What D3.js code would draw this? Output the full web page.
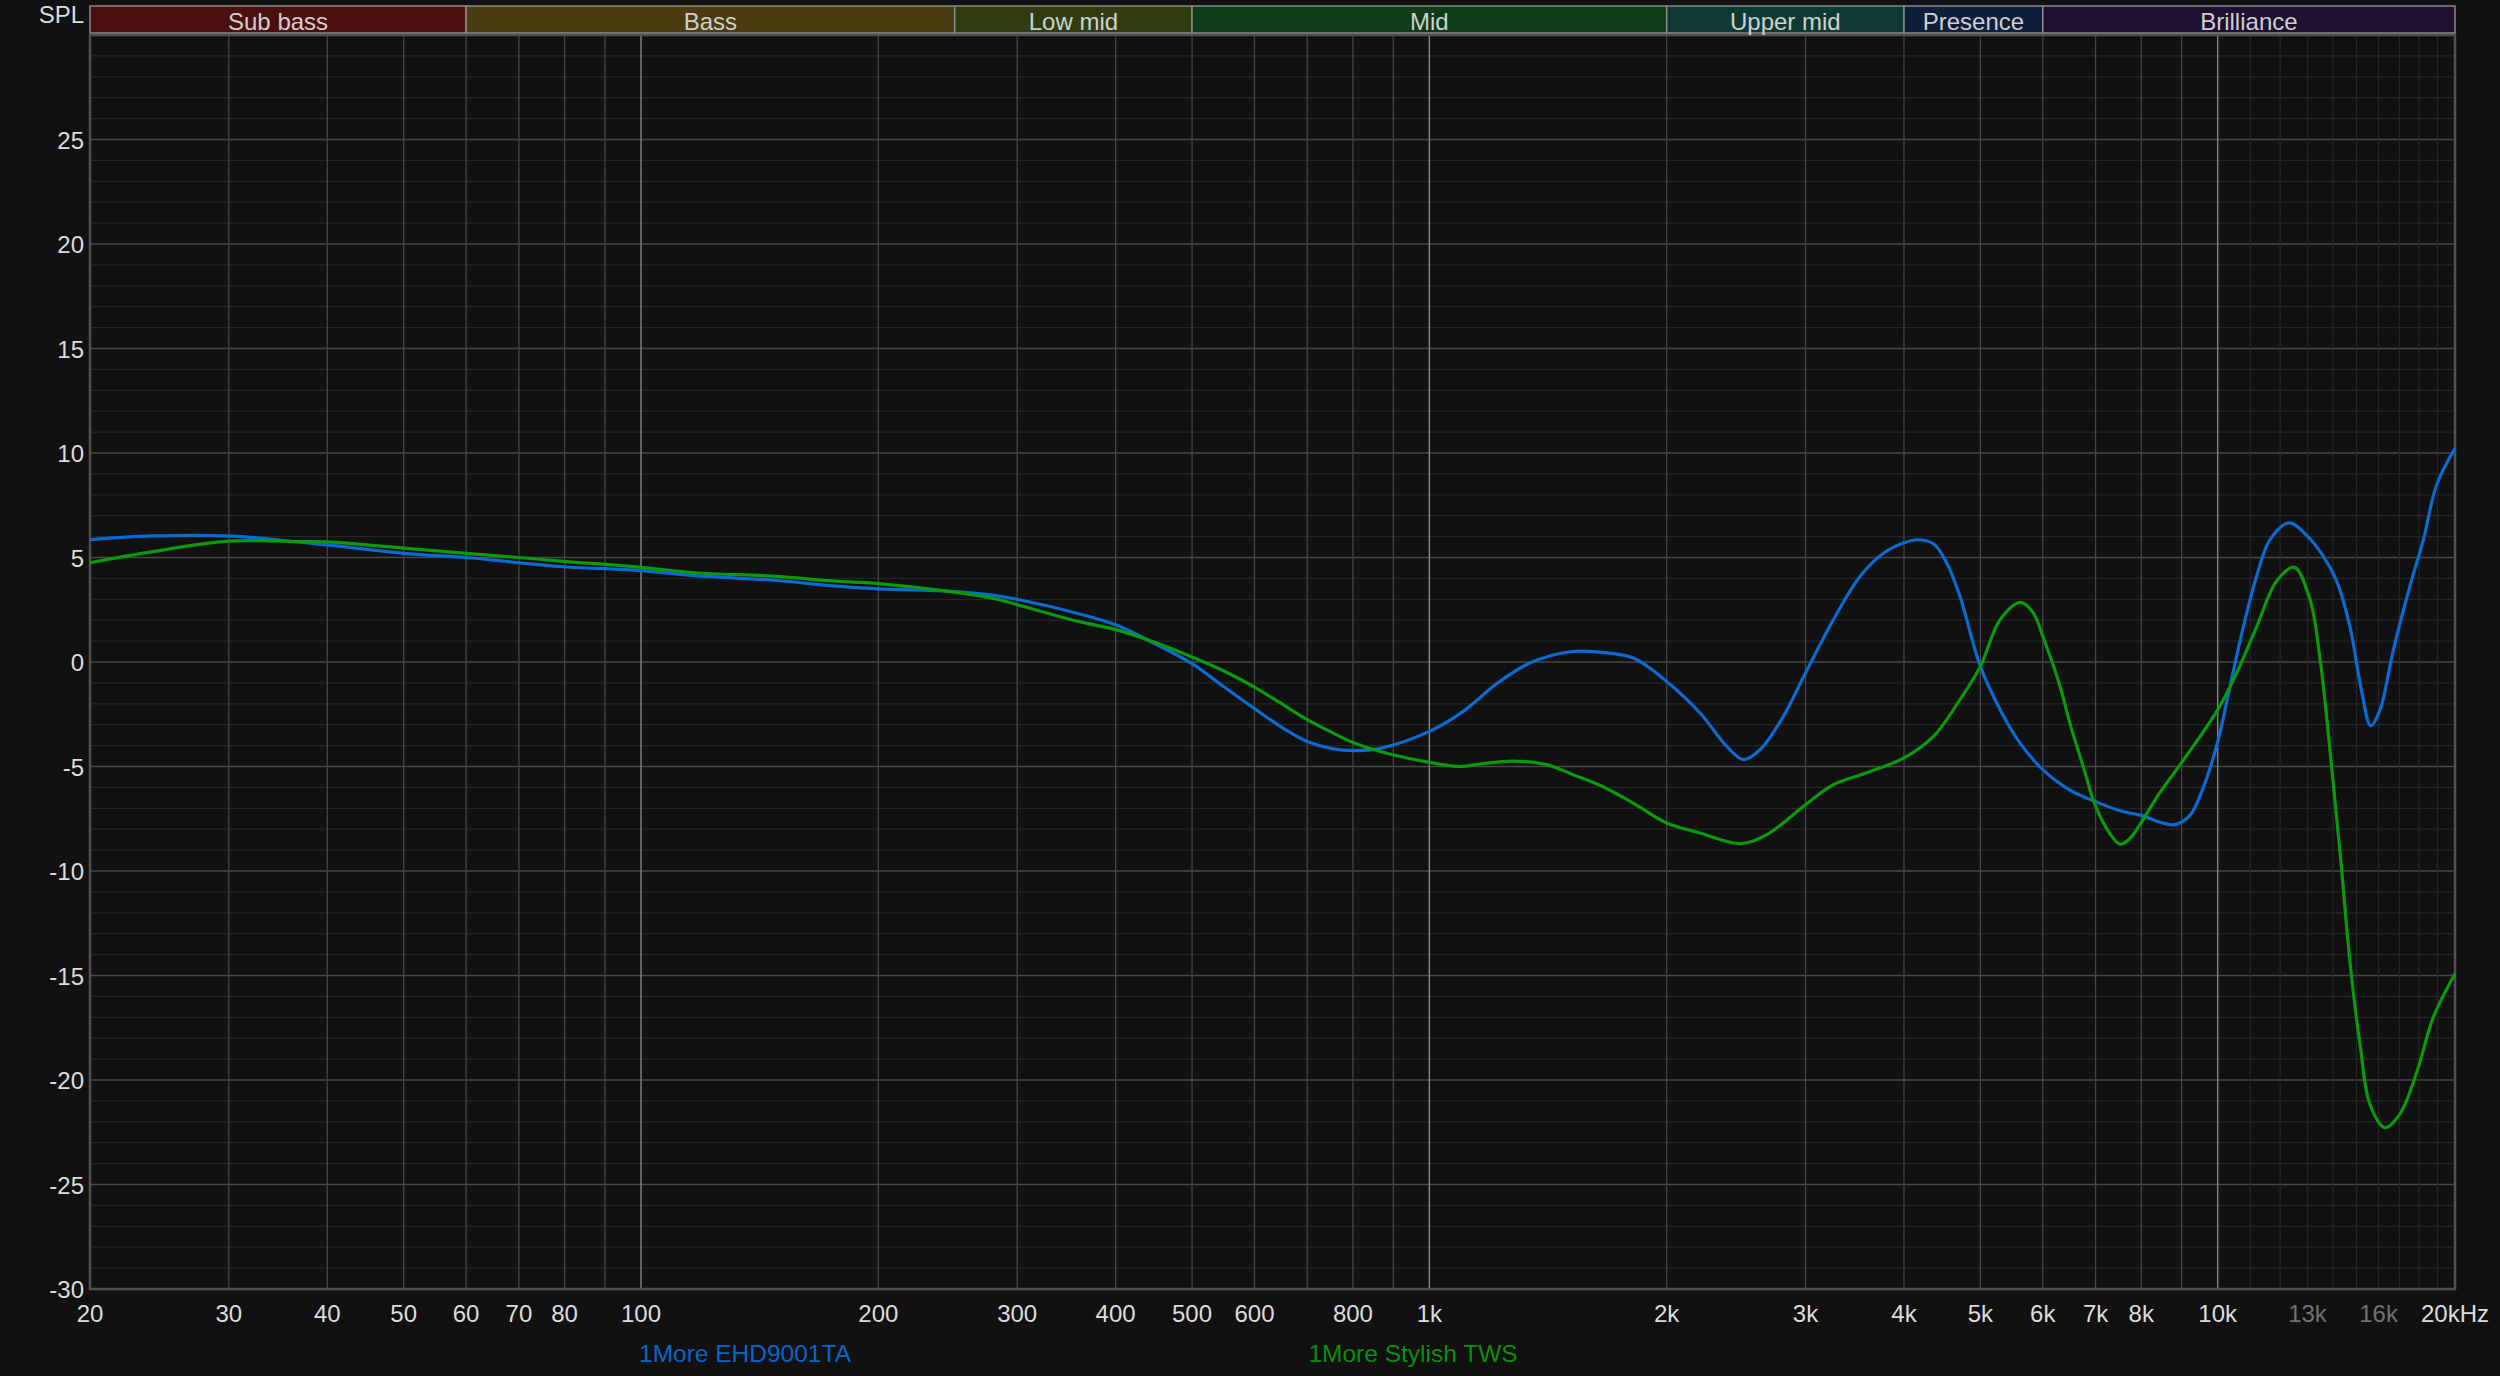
<!DOCTYPE html>
<html>
<head>
<meta charset="utf-8">
<script src="https://cdn.jsdelivr.net/npm/d3@7"></script>
<style>
  html, body { margin: 0; padding: 0; background: #111111; }
  svg { display: block; }
  text { font-family: "Liberation Sans", Arial, sans-serif; }
</style>
</head>
<body>
<svg id="chart" width="2500" height="1376"></svg>
<script>
// ---------------- DATA ----------------
const seriesNames = ["1More EHD9001TA", "1More Stylish TWS"];

const blueFreq = [20, 24, 30, 37, 40, 50, 60, 70, 79, 100, 117, 149, 172, 200, 246, 280, 300, 360, 400, 447, 500, 548, 600, 647, 700, 755, 800, 866, 1000, 1104, 1217, 1341, 1508, 1646, 1814, 2000, 2205, 2384, 2502, 2627, 2812, 3000, 3255, 3519, 3767, 4000, 4152, 4359, 4532, 4711, 5000, 5297, 5614, 6000, 6496, 7000, 7518, 8000, 8451, 8828, 9222, 9586, 10000, 10364, 10776, 11202, 11647, 12325, 12966, 13612, 14157, 14719, 15229, 15634, 16066, 16703, 17537, 18233, 18959, 20000];
const blueDb = [5.85, 6.03, 6.03, 5.73, 5.6, 5.2, 5.0, 4.75, 4.57, 4.37, 4.13, 3.9, 3.67, 3.5, 3.38, 3.19, 3.0, 2.3, 1.78, 0.91, -0.08, -1.17, -2.23, -3.08, -3.8, -4.16, -4.24, -4.13, -3.32, -2.36, -1.04, -0.05, 0.49, 0.47, 0.19, -0.93, -2.44, -4.04, -4.67, -4.2, -2.6, -0.53, 2.02, 4.1, 5.2, 5.7, 5.85, 5.66, 4.74, 3.14, -0.21, -2.28, -3.88, -5.15, -6.13, -6.68, -7.12, -7.34, -7.67, -7.78, -7.34, -6.02, -3.82, -1.19, 1.67, 4.09, 5.84, 6.66, 6.06, 5.07, 3.87, 1.67, -1.41, -3.05, -2.29, 0.57, 3.65, 5.84, 8.48, 10.23];

const greenFreq = [20, 24, 30, 37, 40, 50, 60, 70, 79, 100, 117, 149, 172, 200, 246, 280, 300, 360, 400, 451, 500, 548, 600, 647, 700, 755, 800, 866, 1000, 1095, 1159, 1278, 1408, 1522, 1646, 1814, 2000, 2205, 2483, 2679, 3000, 3255, 3587, 4000, 4359, 4711, 5000, 5297, 5625, 5838, 6000, 6311, 6496, 6755, 7000, 7302, 7518, 7740, 8000, 8451, 9000, 10000, 10570, 11202, 11876, 12508, 13093, 13487, 13885, 14296, 14719, 15157, 15606, 16301, 17030, 17880, 18774, 20000];
const greenDb = [4.75, 5.28, 5.78, 5.76, 5.75, 5.45, 5.2, 5.0, 4.83, 4.53, 4.27, 4.1, 3.89, 3.75, 3.38, 3.04, 2.74, 1.93, 1.55, 0.91, 0.24, -0.42, -1.2, -1.96, -2.76, -3.4, -3.85, -4.28, -4.8, -5.0, -4.88, -4.74, -4.91, -5.39, -5.9, -6.75, -7.7, -8.18, -8.69, -8.26, -6.83, -5.87, -5.3, -4.59, -3.56, -1.8, -0.21, 2.02, 2.85, 2.34, 1.23, -1.17, -2.95, -5.03, -6.9, -8.22, -8.72, -8.44, -7.67, -6.24, -4.81, -2.29, -0.53, 1.67, 3.87, 4.53, 2.99, 0.13, -4.26, -9.1, -14.37, -18.32, -21.18, -22.28, -21.62, -19.64, -17.0, -14.92];

const bandNames = ["Sub bass", "Bass", "Low mid", "Mid", "Upper mid", "Presence", "Brilliance"];
const bandStart = [20, 60, 250, 500, 2000, 4000, 6000];
const bandEnd = [60, 250, 500, 2000, 4000, 6000, 20000];

const xTickValues = [20, 30, 40, 50, 60, 70, 80, 100, 200, 300, 400, 500, 600, 800, 1000, 2000, 3000, 4000, 5000, 6000, 7000, 8000, 10000, 13000, 16000, 20000];
const xTickLabels = ["20", "30", "40", "50", "60", "70", "80", "100", "200", "300", "400", "500", "600", "800", "1k", "2k", "3k", "4k", "5k", "6k", "7k", "8k", "10k", "13k", "16k", "20kHz"];
const xTickDim = ["13k", "16k"];
const yTickValues = [25, 20, 15, 10, 5, 0, -5, -10, -15, -20, -25, -30];

// ---------------- STYLE / LAYOUT ----------------
const W = 2500, H = 1376;
const pLeft = 90, pRight = 2455, pTop = 35, pBottom = 1289;
const bandTop = 6, bandBottom = 33;
const bandColors = ["#4b0f10", "#4a3c10", "#2f3c10", "#0f3c18", "#0f3a34", "#0f1e3a", "#1e1030"];
const seriesColors = ["#0b6bd3", "#0a9a0a"];
const legendColors = ["#0a64c8", "#0a8f0a"];

const svg = d3.select("#chart");
svg.append("rect").attr("width", W).attr("height", H).attr("fill", "#111111");

const x = d3.scaleLog().domain([20, 20000]).range([pLeft, pRight]);
const y = d3.scaleLinear().domain([-30, 30]).range([pBottom, pTop]);

// ---- grid ----
const grid = svg.append("g");
grid.selectAll("line.hmin").data(d3.range(-29, 30).filter(d => d % 5 !== 0))
  .join("line").attr("x1", pLeft).attr("x2", pRight)
  .attr("y1", d => y(d)).attr("y2", d => y(d))
  .attr("stroke", "#252525").attr("stroke-width", 1.2);
grid.selectAll("line.hmaj").data(d3.range(-25, 30, 5))
  .join("line").attr("x1", pLeft).attr("x2", pRight)
  .attr("y1", d => y(d)).attr("y2", d => y(d))
  .attr("stroke", "#474747").attr("stroke-width", 1.5);

const vLines = [];
[10, 100, 1000].forEach(dec => {
  for (let m = 1; m <= 9; m++) {
    const f = dec * m;
    if (f > 20 && f < 10000) vLines.push({ f, major: m === 1 });
  }
});
const vDim = d3.range(11000, 20000, 1000);
grid.selectAll("line.vdim").data(vDim).join("line")
  .attr("x1", d => x(d)).attr("x2", d => x(d)).attr("y1", pTop).attr("y2", pBottom)
  .attr("stroke", "#272727").attr("stroke-width", 1.2);
grid.selectAll("line.vmin").data(vLines.filter(d => !d.major)).join("line")
  .attr("x1", d => x(d.f)).attr("x2", d => x(d.f)).attr("y1", pTop).attr("y2", pBottom)
  .attr("stroke", "#444444").attr("stroke-width", 1.3);
grid.selectAll("line.vmaj").data([100, 1000, 10000]).join("line")
  .attr("x1", d => x(d)).attr("x2", d => x(d)).attr("y1", pTop).attr("y2", pBottom)
  .attr("stroke", "#858585").attr("stroke-width", 1.4);

svg.append("rect").attr("x", pLeft).attr("y", pTop)
  .attr("width", pRight - pLeft).attr("height", pBottom - pTop)
  .attr("fill", "none").attr("stroke", "#505050").attr("stroke-width", 2.5);

// ---- bands ----
const bands = bandNames.map((n, i) => ({ name: n, s: bandStart[i], e: bandEnd[i], c: bandColors[i] }));
const bg = svg.append("g");
bg.selectAll("rect").data(bands).join("rect")
  .attr("x", d => x(d.s)).attr("y", bandTop)
  .attr("width", d => x(d.e) - x(d.s)).attr("height", bandBottom - bandTop)
  .attr("fill", d => d.c).attr("stroke", "#8a8a8a").attr("stroke-width", 1.5);
bg.selectAll("text").data(bands).join("text")
  .attr("x", d => x(Math.sqrt(d.s * d.e))).attr("y", 29.5)
  .attr("text-anchor", "middle").attr("fill", "#cfcfcf")
  .attr("font-size", 24).text(d => d.name);

// ---- axis labels ----
svg.append("text").attr("x", 84).attr("y", 23).attr("text-anchor", "end")
  .attr("fill", "#dddddd").attr("font-size", 24).text("SPL");

svg.append("g").selectAll("text").data(yTickValues).join("text")
  .attr("x", 84).attr("y", d => y(d)).attr("dy", "0.38em")
  .attr("text-anchor", "end").attr("fill", "#dddddd").attr("font-size", 24)
  .text(d => d);

svg.append("g").selectAll("text").data(xTickValues).join("text")
  .attr("x", d => x(d)).attr("y", 1322)
  .attr("text-anchor", "middle")
  .attr("fill", (d, i) => xTickDim.includes(xTickLabels[i]) ? "#727272" : "#dddddd")
  .attr("font-size", 24)
  .text((d, i) => xTickLabels[i]);

// ---- lines ----
const line = d3.line().x(d => x(d[0])).y(d => y(d[1])).curve(d3.curveCatmullRom.alpha(0.5));
const blueData = blueFreq.map((f, i) => [f, blueDb[i]]);
const greenData = greenFreq.map((f, i) => [f, greenDb[i]]);
const plotG = svg.append("g");
plotG.append("path").datum(blueData).attr("d", line)
  .attr("fill", "none").attr("stroke", seriesColors[0]).attr("stroke-width", 3.2)
  .attr("stroke-linejoin", "round");
plotG.append("path").datum(greenData).attr("d", line)
  .attr("fill", "none").attr("stroke", seriesColors[1]).attr("stroke-width", 3.2)
  .attr("stroke-linejoin", "round");

// ---- legend ----
const legendX = [745, 1413];
svg.append("g").selectAll("text").data(seriesNames).join("text")
  .attr("x", (d, i) => legendX[i]).attr("y", 1362)
  .attr("text-anchor", "middle").attr("fill", (d, i) => legendColors[i])
  .attr("font-size", 24.5).text(d => d);
</script>
</body>
</html>
